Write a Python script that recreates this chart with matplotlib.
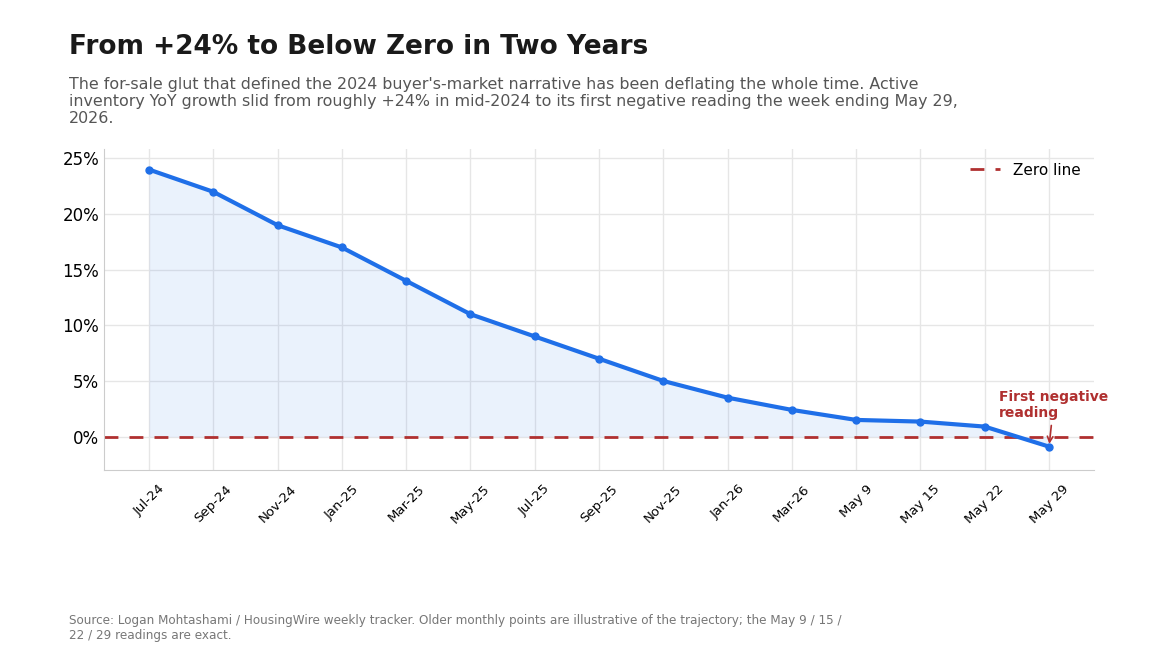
import matplotlib.pyplot as plt
from matplotlib.ticker import FuncFormatter

labels = ['Jul-24', 'Sep-24', 'Nov-24', 'Jan-25', 'Mar-25', 'May-25', 'Jul-25', 'Sep-25',
          'Nov-25', 'Jan-26', 'Mar-26', 'May 9', 'May 15', 'May 22', 'May 29']
yoy_growth = [24.0, 22.0, 19.0, 17.0, 14.0, 11.0, 9.0, 7.0, 5.0, 3.5, 2.4, 1.5, 1.35, 0.9, -0.9]

blue = '#1f6fe8'
red = '#b03030'


def main():
    fig = plt.figure(figsize=(11.52, 6.72), dpi=100)
    ax = fig.add_axes([0.0903, 0.3006, 0.8594, 0.4777])

    x = list(range(len(labels)))
    ax.fill_between(x, yoy_growth, 0, color=blue, alpha=0.09, linewidth=0)
    ax.plot(x, yoy_growth, color=blue, lw=3, marker='o', markersize=5, zorder=3)
    ax.axhline(0, color=red, lw=2, linestyle=(0, (5, 4)), label='Zero line', zorder=2)

    ax.annotate('First negative\nreading', xy=(x[-1], yoy_growth[-1]), xytext=(x[-1] - 0.78, 1.5),
                color=red, fontsize=10, fontweight='bold', ha='left', va='bottom',
                arrowprops=dict(arrowstyle='->', color=red, lw=1.2))

    ax.set_xlim(-0.7, len(labels) - 0.3)
    ax.set_ylim(-3, 25.85)
    ax.set_xticks(x)
    ax.set_xticklabels(labels, rotation=45, fontsize=9.5)
    ax.set_yticks([0, 5, 10, 15, 20, 25])
    ax.yaxis.set_major_formatter(FuncFormatter(lambda v, p: '{:.0f}%'.format(v)))
    ax.tick_params(axis='y', labelsize=12, length=0)
    ax.tick_params(axis='x', length=0, pad=9)
    ax.grid(True, color='#e6e6e6', lw=1)
    ax.set_axisbelow(True)
    for s in ['top', 'right']:
        ax.spines[s].set_visible(False)
    for s in ['left', 'bottom']:
        ax.spines[s].set_color('#cccccc')

    ax.legend(loc='upper right', frameon=False, fontsize=11)

    fig.text(0.06, 0.92, 'From +24% to Below Zero in Two Years', fontsize=19, fontweight='bold',
             color='#1a1a1a', va='baseline')
    fig.text(0.06, 0.812, "The for-sale glut that defined the 2024 buyer's-market narrative has been deflating "
             "the whole time. Active\ninventory YoY growth slid from roughly +24% in mid-2024 to its first "
             "negative reading the week ending May 29,\n2026.", fontsize=11.42, color='#555555', va='bottom',
             linespacing=1.2)
    fig.text(0.06, 0.045, 'Source: Logan Mohtashami / HousingWire weekly tracker. Older monthly points are '
             'illustrative of the trajectory; the May 9 / 15 /\n22 / 29 readings are exact.',
             fontsize=8.65, color='#777777', va='bottom', linespacing=1.15)

    fig.savefig('out.png', dpi=100)


main()
